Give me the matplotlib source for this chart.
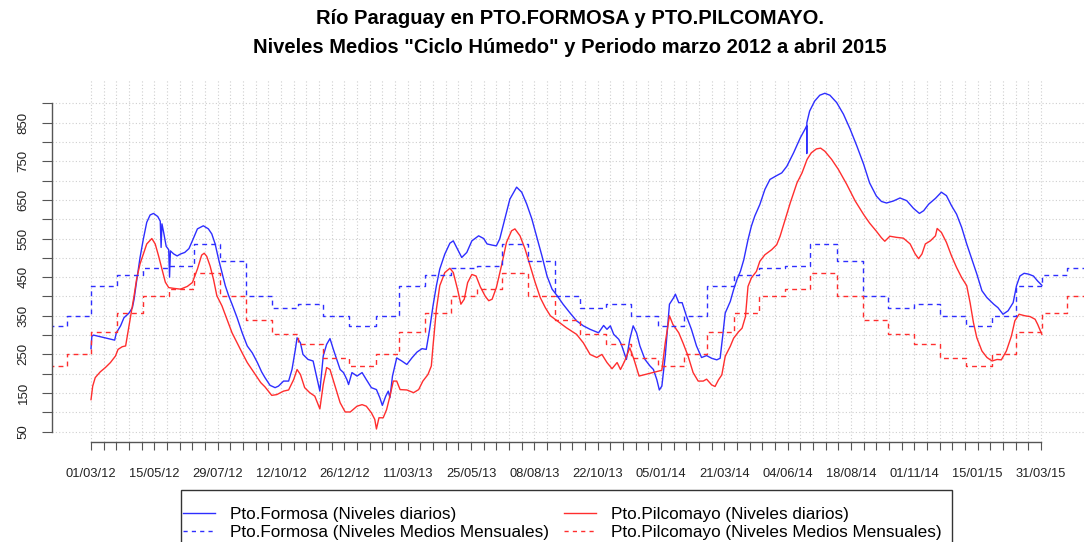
import matplotlib.pyplot as plt
import pandas as pd
from matplotlib.lines import Line2D
from matplotlib.patches import Rectangle

plt.rcParams['font.family'] = ['Liberation Sans', 'DejaVu Sans']

# fecha de referencia del eje x (dia 0)
inicio = pd.Timestamp('2012-03-01')

# Niveles diarios: (dias desde 01/03/2012, nivel en cm)
formosa_diario = [
    (0, 265), (1, 297), (3, 300), (28, 287), (30, 306), (35, 324), (39, 345), (45, 357),
    (49, 371), (51, 393), (54, 440), (58, 500), (62, 549), (66, 592), (70, 611), (74, 615),
    (79, 607), (82, 595), (83, 527), (84, 588), (86, 566), (89, 530), (92, 521), (93, 450),
    (94, 518), (98, 510), (102, 505), (106, 510), (111, 514), (116, 524), (120, 544),
    (126, 575), (133, 583), (139, 575), (143, 562), (147, 536), (151, 497), (155, 462),
    (159, 428), (163, 402), (167, 380), (173, 345), (179, 306), (185, 272), (191, 254),
    (197, 229), (202, 205), (206, 190), (212, 170), (218, 164), (222, 168), (228, 181),
    (234, 181), (238, 211), (242, 263), (244, 293), (248, 280), (251, 250), (257, 237),
    (263, 233), (267, 194), (271, 155), (275, 246), (279, 276), (283, 291), (287, 263),
    (291, 237), (295, 211), (299, 203), (303, 185), (305, 172), (309, 203), (315, 194),
    (321, 203), (326, 185), (332, 164), (338, 159), (342, 138), (345, 118), (349, 142),
    (352, 155), (354, 138), (357, 194), (362, 241), (368, 233), (374, 224), (380, 241),
    (386, 256), (392, 265), (397, 263), (401, 315), (405, 376), (409, 428), (413, 471),
    (419, 510), (425, 538), (429, 544), (433, 527), (439, 501), (445, 514), (451, 544),
    (459, 557), (465, 550), (469, 536), (475, 533), (480, 531), (484, 549), (490, 601),
    (496, 652), (504, 683), (510, 670), (516, 639), (522, 601), (528, 553), (534, 505),
    (540, 453), (546, 419), (552, 402), (559, 380), (567, 358), (575, 337), (583, 324),
    (591, 315), (601, 306), (607, 325), (611, 315), (615, 324), (619, 302), (625, 289),
    (628, 276), (634, 237), (638, 289), (642, 324), (646, 306), (650, 272), (656, 237),
    (662, 220), (666, 211), (670, 185), (673, 158), (676, 168), (680, 246), (685, 380),
    (690, 397), (692, 406), (696, 384), (700, 384), (705, 350), (711, 315), (717, 272),
    (723, 242), (729, 247), (735, 240), (741, 236), (745, 240), (748, 297), (751, 357),
    (757, 387), (761, 418), (765, 444), (769, 465), (773, 495), (778, 547), (782, 582),
    (786, 608), (792, 638), (798, 677), (804, 703), (812, 713), (818, 720), (824, 737),
    (832, 772), (840, 811), (846, 835), (847.5, 842), (847.6, 770), (847.7, 850),
    (851, 880), (857, 906), (863, 921), (869, 926), (875, 921), (883, 902), (891, 872),
    (899, 833), (907, 789), (915, 742), (922, 694), (930, 660), (936, 646), (942, 642),
    (950, 647), (958, 655), (966, 648), (974, 628), (981, 615), (986, 622), (992, 639),
    (1000, 654), (1007, 670), (1013, 661), (1019, 635), (1025, 613), (1031, 579),
    (1037, 536), (1043, 497), (1049, 458), (1055, 415), (1061, 397), (1069, 380),
    (1074, 371), (1080, 354), (1086, 363), (1092, 384), (1096, 428), (1100, 453),
    (1105, 460), (1110, 458), (1116, 453), (1121, 440), (1126, 429),
]

pilcomayo_diario = [
    (0, 133), (2, 168), (5, 190), (11, 205), (17, 216), (23, 229), (29, 246), (32, 263),
    (37, 270), (41, 272), (43, 298), (47, 350), (51, 402), (54, 445), (58, 484), (62, 510),
    (66, 536), (72, 550), (76, 536), (80, 505), (84, 471), (88, 437), (92, 423), (98, 421),
    (106, 419), (114, 426), (120, 436), (126, 471), (131, 507), (134, 512), (137, 504),
    (141, 479), (145, 445), (149, 402), (155, 376), (161, 341), (167, 306), (173, 280),
    (179, 254), (185, 229), (193, 203), (201, 177), (206, 166), (214, 144), (220, 146),
    (228, 155), (234, 158), (240, 185), (244, 211), (248, 198), (253, 164), (259, 151),
    (265, 142), (271, 109), (275, 172), (279, 216), (283, 211), (289, 168), (295, 125),
    (301, 101), (307, 101), (315, 116), (321, 120), (326, 116), (332, 99), (336, 82),
    (338, 57), (341, 86), (346, 86), (350, 107), (354, 142), (358, 181), (362, 181),
    (366, 159), (374, 158), (382, 151), (388, 159), (393, 181), (399, 198), (403, 220),
    (405, 272), (409, 367), (413, 428), (419, 462), (425, 473), (429, 462), (434, 419),
    (438, 380), (442, 393), (446, 436), (451, 457), (456, 453), (461, 425), (467, 400),
    (471, 389), (475, 393), (480, 423), (486, 479), (492, 540), (498, 570), (502, 575),
    (508, 557), (514, 523), (520, 479), (526, 436), (532, 397), (538, 371), (544, 350),
    (552, 337), (563, 319), (575, 302), (583, 280), (591, 250), (599, 242), (605, 250),
    (611, 229), (617, 213), (623, 229), (627, 211), (632, 233), (638, 267), (643, 237),
    (649, 194), (676, 209), (680, 280), (685, 350), (689, 328), (696, 306), (701, 280),
    (707, 246), (713, 203), (719, 181), (725, 181), (729, 186), (735, 171), (739, 167),
    (743, 184), (747, 197), (751, 245), (757, 271), (761, 292), (767, 309), (771, 318),
    (775, 348), (778, 426), (782, 448), (788, 465), (792, 491), (798, 508), (806, 521),
    (812, 534), (816, 556), (822, 599), (828, 642), (836, 694), (842, 720), (848, 755),
    (853, 772), (859, 782), (864, 784), (869, 776), (877, 755), (885, 729), (895, 690),
    (905, 647), (915, 612), (922, 590), (930, 569), (936, 552), (940, 543), (946, 556),
    (954, 553), (962, 551), (970, 536), (976, 510), (980, 498), (984, 510), (988, 536),
    (994, 544), (1000, 557), (1002, 576), (1007, 566), (1013, 540), (1019, 505),
    (1025, 475), (1031, 449), (1037, 428), (1041, 384), (1045, 332), (1049, 293),
    (1055, 259), (1061, 242), (1067, 233), (1073, 237), (1078, 236), (1084, 259),
    (1090, 298), (1094, 337), (1099, 354), (1106, 350), (1112, 348), (1118, 341),
    (1121, 328), (1126, 302),
]

# Niveles medios mensuales "ciclo humedo" (enero ... diciembre)
formosa_medio = [323, 350, 426, 456, 475, 479, 537, 493, 401, 369, 380, 350]
pilcomayo_medio = [221, 251, 308, 357, 401, 419, 460, 401, 340, 302, 277, 241]

meses = pd.date_range('2012-01-01', '2015-07-01', freq='MS')
dias_mes = (meses - inicio).days
formosa_mes = [formosa_medio[m.month - 1] for m in meses]
pilcomayo_mes = [pilcomayo_medio[m.month - 1] for m in meses]

f_dia, f_nivel = zip(*formosa_diario)
p_dia, p_nivel = zip(*pilcomayo_diario)

azul = '#2e2eff'
rojo = '#ff2e2e'

W, H = 1084, 542
fig = plt.figure(figsize=(W / 100, H / 100), dpi=100)
ax = fig.add_axes([52 / W, 1 - 442 / H, (1090 - 52) / W, (442 - 80) / H])

ax.plot(f_dia, f_nivel, color=azul, lw=1.0)
ax.plot(p_dia, p_nivel, color=rojo, lw=1.0)
ax.step(dias_mes, formosa_mes, where='post', color=azul, lw=1.0, dashes=(3.5, 3))
ax.step(dias_mes, pilcomayo_mes, where='post', color=rojo, lw=1.0, dashes=(3.5, 3))

ax.set_xlim(-46.2, 1183)
ax.set_ylim(23.3, 960.4)

# ticks cada 15 dias, etiqueta cada 75
ticks_x = list(range(0, 1126, 15))
etiquetas_x = [(inicio + pd.Timedelta(days=d)).strftime('%d/%m/%y') if d % 75 == 0 else ''
               for d in ticks_x]
ax.set_xticks(ticks_x)
ax.set_xticklabels(etiquetas_x)
ticks_y = list(range(50, 901, 50))
ax.set_yticks(ticks_y)
ax.set_yticklabels([str(v) if v % 100 == 50 else '' for v in ticks_y])

ax.grid(True, color='#cfcfcf', linestyle=(0, (1, 2)), lw=0.8)
ax.set_axisbelow(True)

for lado in ['top', 'right']:
    ax.spines[lado].set_visible(False)
ax.spines['left'].set_bounds(50, 900)
ax.spines['bottom'].set_bounds(0, 1125)
for lado in ['left', 'bottom']:
    ax.spines[lado].set_color('#555555')
    ax.spines[lado].set_linewidth(1.0)

ax.tick_params(axis='x', length=6, width=0.8, color='#555555', labelsize=9.3,
               pad=13, labelcolor='#222222')
ax.tick_params(axis='y', length=7, width=0.8, color='#555555', labelsize=9.5,
               pad=9, labelcolor='#222222', labelrotation=90)
for t in ax.get_yticklabels():
    t.set_va('center')

# titulo
fig.text(570 / W, 1 - 24 / H, 'Río Paraguay en PTO.FORMOSA y PTO.PILCOMAYO.',
         ha='center', va='baseline', fontsize=14.5, fontweight='bold')
fig.text(570 / W, 1 - 53 / H, 'Niveles Medios "Ciclo Húmedo" y Periodo marzo 2012 a abril 2015',
         ha='center', va='baseline', fontsize=14.5, fontweight='bold')

# leyenda (marco dibujado aparte, queda cortado abajo como en el original)
handles = [
    Line2D([], [], color=azul, lw=1.0),
    Line2D([], [], color=azul, lw=1.0, dashes=(3, 3)),
    Line2D([], [], color=rojo, lw=1.0),
    Line2D([], [], color=rojo, lw=1.0, dashes=(3, 3)),
]
labels = [
    'Pto.Formosa (Niveles diarios)',
    'Pto.Formosa (Niveles Medios Mensuales)',
    'Pto.Pilcomayo (Niveles diarios)',
    'Pto.Pilcomayo (Niveles Medios Mensuales)',
]
fig.legend(handles, labels, ncol=2, loc='upper left',
           bbox_to_anchor=(178 / W, 1 - 502 / H), borderaxespad=0,
           fontsize=12.3, handlelength=1.87, handletextpad=0.88,
           columnspacing=0.88, labelspacing=0.15, borderpad=0.3,
           frameon=False)
fig.patches.append(Rectangle((181 / W, 1 - 555 / H), (952 - 181) / W, (555 - 490) / H,
                             transform=fig.transFigure, fill=False,
                             edgecolor='#333333', lw=1.0))

fig.savefig('out.png', dpi=100)
